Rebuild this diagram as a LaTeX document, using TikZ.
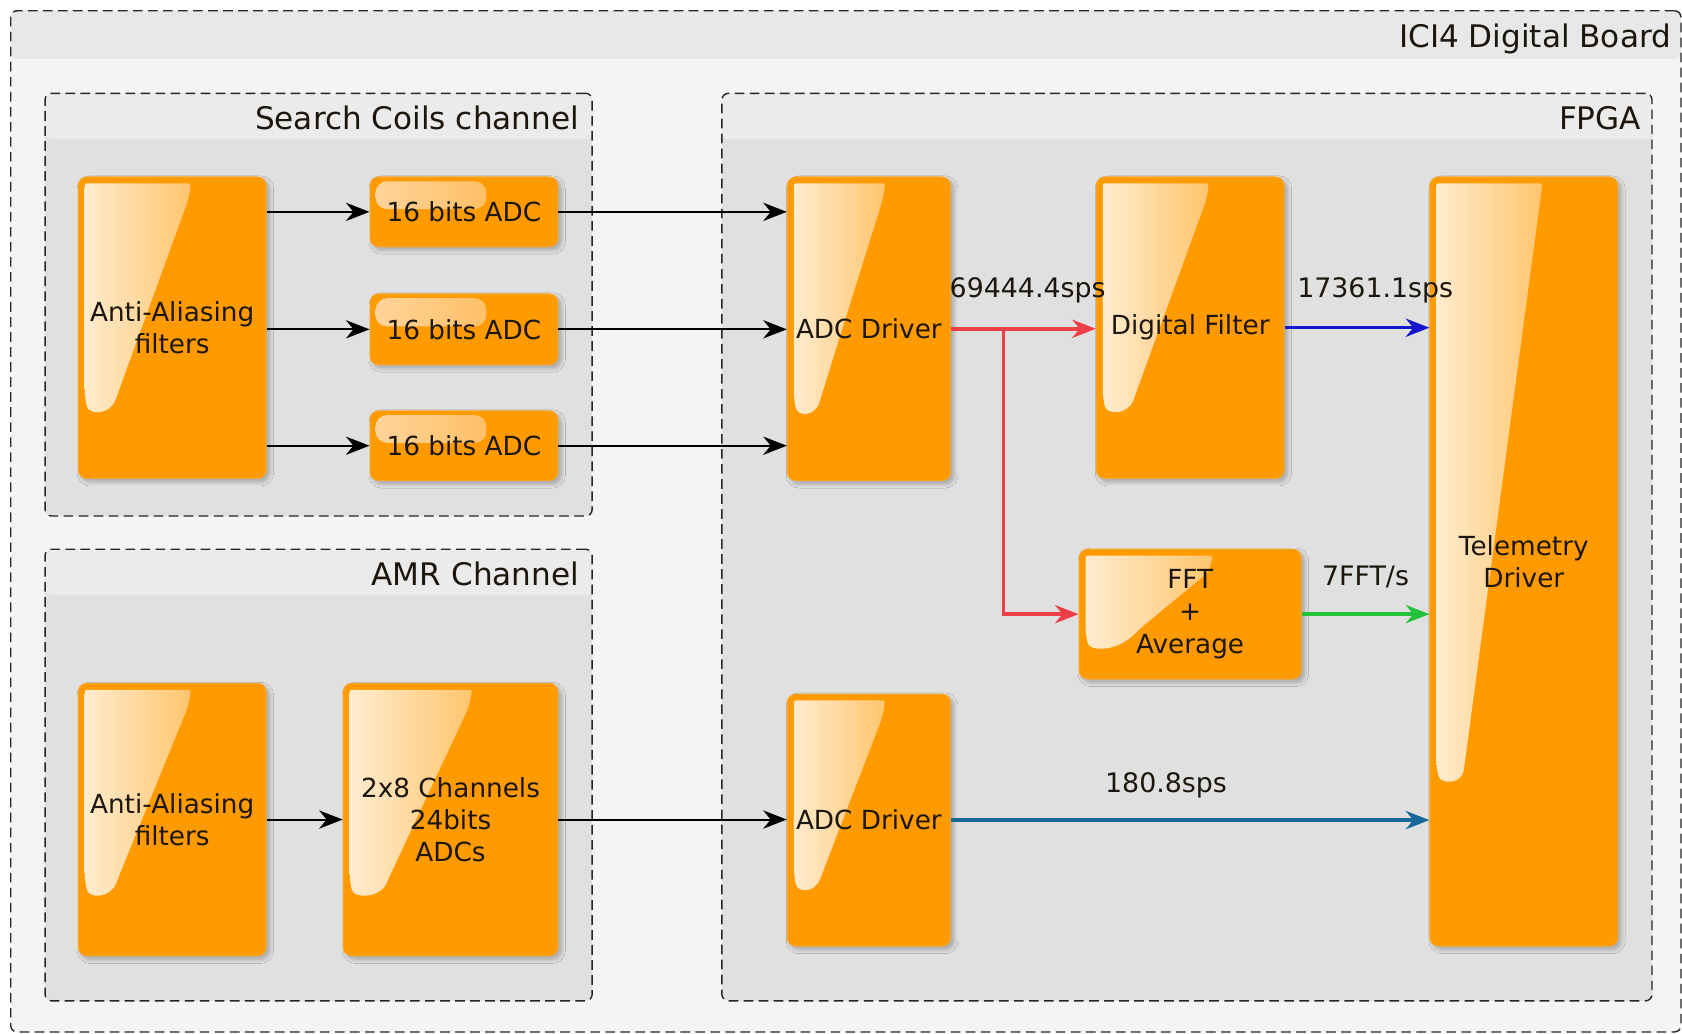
\documentclass[tikz,border=0pt]{standalone}
\usepackage{fontspec}
\setmainfont{DejaVu Sans}
\usetikzlibrary{arrows.meta,shadows.blur,calc}

% palette
\definecolor{boardhead}{RGB}{232,232,232}
\definecolor{boardbody}{RGB}{244,244,244}
\definecolor{grouphead}{RGB}{235,235,235}
\definecolor{groupbody}{RGB}{224,224,224}
\definecolor{blockfill}{RGB}{255,155,0}
\definecolor{blockedge}{RGB}{246,165,40}
\definecolor{glossL}{RGB}{255,238,212}
\definecolor{glossM}{RGB}{255,200,122}
\definecolor{glossR}{RGB}{255,170,42}
\definecolor{glossfL}{RGB}{255,212,156}
\definecolor{glossfR}{RGB}{255,180,70}
\definecolor{flowred}{RGB}{238,62,72}
\definecolor{flowblue}{RGB}{22,22,205}
\definecolor{flowgreen}{RGB}{36,194,60}
\definecolor{flowsteel}{RGB}{24,104,152}
\definecolor{ink}{RGB}{28,22,14}

\tikzset{
  % dashed grouping frame with a lighter title band
  frame/.style={draw=black!85, dash pattern=on 9pt off 5pt, line width=1.3pt,
    rounded corners=6pt, inner sep=0pt, fill=groupbody,
    path picture={\fill[#1] let \p1=(path picture bounding box.north west),
      \p2=(path picture bounding box.north east) in (\p1) rectangle (\x2,\y2-43pt);}},
  frame/.default=grouphead,
  frametitle/.style={anchor=base east, inner sep=0pt, text=ink,
    font=\fontsize{29}{34}\selectfont},
  % glossy orange block
  block/.style={draw=blockedge, line width=1pt, fill=blockfill, rounded corners=8pt,
    text=ink, font=\fontsize{24.5}{30}\selectfont, align=center, inner sep=0pt,
    blur shadow={shadow xshift=3pt, shadow yshift=-3pt, shadow blur radius=4pt,
      shadow blur steps=10, shadow opacity=28}},
  % slanted highlight: top edge to 60% of the width, diagonal down to a rounded tip
  glosstall/.style={path picture={
    \shade[left color=glossL, middle color=glossM, right color=glossR]
      let \p1=(path picture bounding box.north west),
          \p2=(path picture bounding box.south east),
          \n1={\x2-\x1}, \n2={\y1-\y2},
          \n3={0.79*\n2-6}, \n4={0.43*\n1},
          \n5={\x1+0.17*\n1}, \n6={\y1-0.79*\n2} in
      (\x1+6pt,\y1-18pt) .. controls (\x1+6pt,\y1-6pt) .. (\x1+18pt,\y1-6pt)
      -- (\x1+0.6*\n1-12pt,\y1-6pt) .. controls (\x1+0.6*\n1,\y1-6pt) .. (\x1+0.6*\n1-2pt,\y1-20pt)
      -- (\n5+\n4*22/\n3,\n6+22)
      .. controls (\n5,\n6) and (\x1+10pt,\n6) .. (\x1+6pt,\n6+16)
      -- cycle;}},
  glossflat/.style={path picture={
    \shade[left color=glossfL, right color=glossfR, rounded corners=11pt]
      let \p1=(path picture bounding box.north west),
          \p2=(path picture bounding box.south east),
          \n1={\x2-\x1}, \n2={\y1-\y2} in
      (\x1+5pt,\y1-4pt) -- (\x1+0.62*\n1,\y1-4pt) -- (\x1+0.62*\n1,\y1-0.46*\n2)
      -- (\x1+5pt,\y1-0.46*\n2) -- cycle;}},
  tip/.style={-{Stealth[length=22pt,width=17pt,inset=7pt]}},
  flow/.style={tip, line width=1.8pt, draw=black},
  cflow/.style={tip, line width=3.2pt, draw=#1, color=#1},
  rate/.style={anchor=base, inner sep=0pt, text=ink, font=\fontsize{25}{30}\selectfont}
}

\begin{document}
\begin{tikzpicture}[x=1pt, y=-1pt]
  \useasboundingbox (0,0) rectangle (1568,963);
  \fill[white] (0,0) rectangle (1568,963);

  % board and groups
  \node[frame=boardhead, fill=boardbody, minimum width=1557pt, minimum height=952pt,
        path picture={\fill[boardhead] let \p1=(path picture bounding box.north west),
          \p2=(path picture bounding box.north east) in (\p1) rectangle (\x2,\y2-45pt);}]
        (board) at (788.5,486) {};
  \node[frametitle] (boardtitle) at (1558,44.5) {ICI4 Digital Board};

  \node[frame, minimum width=510pt, minimum height=394pt] (sc) at (297,284) {};
  \node[frametitle] (sctitle) at (540,120.5) {Search Coils channel};

  \node[frame, minimum width=510pt, minimum height=421pt] (amr) at (297,722.5) {};
  \node[frametitle] (amrtitle) at (540,545.5) {AMR Channel};

  \node[frame, minimum width=867pt, minimum height=846pt] (fpga) at (1106.5,510) {};
  \node[frametitle] (fpgatitle) at (1530,120.5) {FPGA};

  % search coils channel
  \node[block, glosstall, minimum width=175pt, minimum height=281pt] (aa1) at (160.5,305.5)
    {Anti-Aliasing\\filters};
  \node[block, glossflat, minimum width=175pt, minimum height=65pt] (adc1) at (432.5,197.5)
    {16 bits ADC};
  \node[block, glossflat, minimum width=175pt, minimum height=66pt] (adc2) at (432.5,307)
    {16 bits ADC};
  \node[block, glossflat, minimum width=175pt, minimum height=65pt] (adc3) at (432.5,415.5)
    {16 bits ADC};

  % AMR channel
  \node[block, glosstall, minimum width=175pt, minimum height=254pt] (aa2) at (160.5,764)
    {Anti-Aliasing\\filters};
  \node[block, glosstall, minimum width=200pt, minimum height=254pt] (chan) at (420,764)
    {2x8 Channels\\24bits\\ADCs};

  % FPGA
  \node[block, glosstall, minimum width=152pt, minimum height=283pt] (drv1) at (810,306.5)
    {ADC Driver};
  \node[block, glosstall, minimum width=175pt, minimum height=281pt] (df) at (1109.5,305.5)
    {Digital Filter};
  \node[block, glosstall, minimum width=207pt, minimum height=121pt] (fft) at (1109.5,572.5)
    {FFT\\+\\Average};
  \node[block, glosstall, minimum width=175pt, minimum height=717pt] (tel) at (1420.5,523.5)
    {Telemetry\\Driver};
  \node[block, glosstall, minimum width=152pt, minimum height=235pt] (drv2) at (810,764.5)
    {ADC Driver};

  % analogue paths
  \draw[flow] (aa1.east |- adc1.west) -- (adc1.west);
  \draw[flow] (aa1.east |- adc2.west) -- (adc2.west);
  \draw[flow] (aa1.east |- adc3.west) -- (adc3.west);
  \draw[flow] (adc1.east) -- (adc1.east -| drv1.west);
  \draw[flow] (adc2.east) -- (adc2.east -| drv1.west);
  \draw[flow] (adc3.east) -- (adc3.east -| drv1.west);
  \draw[flow] (aa2.east) -- (aa2.east -| chan.west);
  \draw[flow] (chan.east) -- (chan.east -| drv2.west);

  % digital data rates
  \coordinate (split) at ($(drv1.east)+(49,0)$);
  \draw[cflow=flowred] (drv1.east) -- (drv1.east -| df.west);
  \draw[cflow=flowred] (split) |- (fft.west);
  \draw[cflow=flowblue] (df.east) -- (df.east -| tel.west);
  \draw[cflow=flowgreen] (fft.east) -- (fft.east -| tel.west);
  \draw[cflow=flowsteel] (drv2.east) -- (drv2.east -| tel.west);

  \node[rate] (r1) at (958,277) {69444.4sps};
  \node[rate] (r2) at (1282,277) {17361.1sps};
  \node[rate] (r3) at (1273,546) {7FFT/s};
  \node[rate] (r4) at (1087,739) {180.8sps};
\end{tikzpicture}
\end{document}
